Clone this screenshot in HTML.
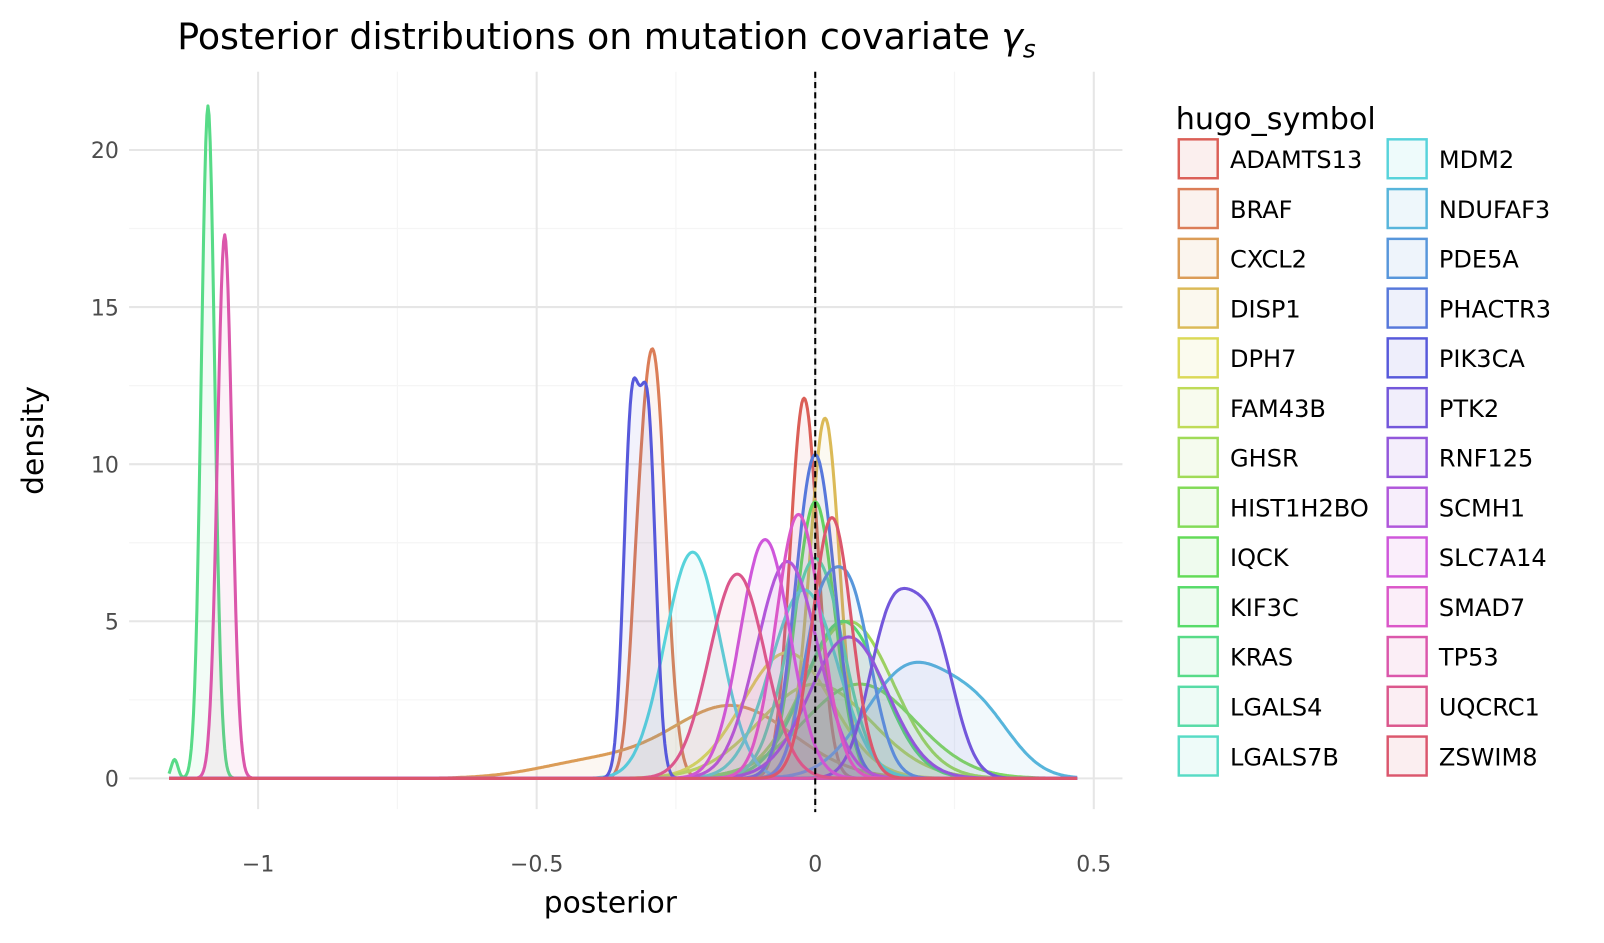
<!DOCTYPE html>
<html><head><meta charset="utf-8"><style>
body{margin:0;background:#fff;font-family:"Liberation Sans","DejaVu Sans",sans-serif}
svg text{font-family:"DejaVu Sans","Liberation Sans",sans-serif}
</style></head><body>
<svg id="chart" width="1604" height="938" viewBox="0 0 1604 938">
<g transform="translate(-2,-2) scale(1.0241)">
<text x="175" y="50" font-size="35.5" fill="#000">Posterior distributions on mutation covariate <tspan font-style="italic">γ</tspan><tspan font-style="italic" font-size="24" dy="8">s</tspan></text>
<g id="grid"></g>
<g id="marks"></g>
<g id="axes"></g>
<text x="598" y="893" font-size="29" text-anchor="middle" fill="#000">posterior</text>
<text transform="translate(44,432) rotate(-90)" font-size="29" text-anchor="middle" fill="#000">density</text>
<text x="1150" y="128" font-size="29.5" fill="#000">hugo_symbol</text>
<g id="legend"></g>
</g>
</svg>
<script>
const genes=["ADAMTS13","BRAF","CXCL2","DISP1","DPH7","FAM43B","GHSR","HIST1H2BO","IQCK","KIF3C","KRAS","LGALS4","LGALS7B","MDM2","NDUFAF3","PDE5A","PHACTR3","PIK3CA","PTK2","RNF125","SCMH1","SLC7A14","SMAD7","TP53","UQCRC1","ZSWIM8"];
// per-gene density components: centers, widths, peak heights
const centers=[[-0.02],[-0.29,-0.32],[-0.15,-0.4],[0.02,-0.01],[-0.05],[0.0],[0.06],[0.08],[0.0],[0.05],[-1.09,-1.15],[0.0],[-0.02],[-0.22],[0.17,0.3],[0.06,0.0],[0.0],[-0.33,-0.30],[0.135,0.21],[0.06],[-0.05],[-0.09],[-0.03],[-1.06],[-0.14],[0.03]];
const widths=[[0.025],[0.022,0.015],[0.11,0.1],[0.025,0.03],[0.08],[0.1],[0.08],[0.1],[0.035],[0.07],[0.012,0.006],[0.05],[0.06],[0.05],[0.08,0.06],[0.04,0.03],[0.035],[0.014,0.014],[0.04,0.04],[0.07],[0.055],[0.045],[0.04],[0.013],[0.05],[0.035]];
const peaks=[[12.1],[13.2,3],[2.3,0.5],[10.2,2],[4],[3],[5],[3],[8.8],[5],[21.4,0.6],[7],[6],[7.2],[3.5,1.6],[6,3.5],[10.3],[11.2,11.0],[4.9,4.4],[4.5],[6.9],[7.6],[8.4],[17.3],[6.5],[8.3]];
const xTicks=[-1,-0.5,0,0.5], xTickLabels=["\u22121","\u22120.5","0","0.5"];
const yTicks=[0,5,10,15,20], yTickLabels=["0","5","10","15","20"];
const X0=798,XS=544,Y0=762,YS=30.68;
const sx=v=>X0+v*XS, sy=v=>Y0-v*YS;
const NS="http://www.w3.org/2000/svg";
function mk(t,a,p){const e=document.createElementNS(NS,t);for(const k in a)e.setAttribute(k,a[k]);p.appendChild(e);return e;}
function hls(h,l,s){const m2=l<=0.5?l*(1+s):l+s-l*s,m1=2*l-m2;
function v(hh){hh=((hh%1)+1)%1;if(hh<1/6)return m1+(m2-m1)*hh*6;if(hh<0.5)return m2;if(hh<2/3)return m1+(m2-m1)*(2/3-hh)*6;return m1;}
return "rgb("+[v(h+1/3),v(h),v(h-1/3)].map(c=>Math.round(c*255)).join(",")+")";}
const n=genes.length, cols=genes.map((g,i)=>hls(i/n+0.01,0.6,0.65));
const grid=document.getElementById("grid");
const L=128,R=1098,T=72,B=792;
[-0.75,-0.25,0.25].forEach(v=>mk("line",{x1:sx(v),x2:sx(v),y1:T,y2:B,stroke:"#f5f5f5","stroke-width":1.2},grid));
[2.5,7.5,12.5,17.5].forEach(v=>mk("line",{x1:L,x2:R,y1:sy(v),y2:sy(v),stroke:"#f5f5f5","stroke-width":1.2},grid));
xTicks.forEach(v=>mk("line",{x1:sx(v),x2:sx(v),y1:T,y2:B,stroke:"#e6e6e6","stroke-width":2},grid));
yTicks.forEach(v=>mk("line",{x1:L,x2:R,y1:sy(v),y2:sy(v),stroke:"#e6e6e6","stroke-width":2},grid));
const axes=document.getElementById("axes");
xTicks.forEach((v,i)=>{const t=mk("text",{x:sx(v),y:853,"font-size":21.5,"text-anchor":"middle",fill:"#4d4d4d"},axes);t.textContent=xTickLabels[i];

});
yTicks.forEach((v,i)=>{const t=mk("text",{x:118,y:sy(v)+8,"font-size":21.5,"text-anchor":"end",fill:"#4d4d4d"},axes);t.textContent=yTickLabels[i];

});
const marks=document.getElementById("marks");
const xmin=-1.16,xmax=0.47;
genes.forEach((g,i)=>{let pts=[];for(let x=xmin;x<=xmax+1e-9;x+=0.002){let d=0;for(let k=0;k<centers[i].length;k++)d+=peaks[i][k]*Math.exp(-0.5*Math.pow((x-centers[i][k])/widths[i][k],2));pts.push(sx(x).toFixed(1)+","+sy(d).toFixed(1));}
const line="M"+pts.join("L");
const f=mk("path",{d:line+"L"+sx(xmax)+","+sy(0)+"L"+sx(xmin)+","+sy(0)+"Z",fill:cols[i],"fill-opacity":0.08,stroke:"none"},marks);


const p=mk("path",{d:line,fill:"none",stroke:cols[i],"stroke-width":3,"stroke-linejoin":"round"},marks);

});
const zl=mk("line",{x1:sx(0),x2:sx(0),y1:T,y2:795,stroke:"#000","stroke-width":2,"stroke-dasharray":"6,4"},marks);


const leg=document.getElementById("legend");
genes.forEach((g,i)=>{const c=i<13?0:1,r=i%13;const kx=c?1357:1153,ky=138+r*48.6;
const gr=mk("g",{},leg);


mk("rect",{x:kx,y:ky,width:38,height:38,fill:cols[i],"fill-opacity":0.1,stroke:cols[i],"stroke-width":2.4},gr);
const t=mk("text",{x:kx+50,y:ky+28,"font-size":23.5,fill:"#000"},gr);t.textContent=g;});
</script>
</body></html>
